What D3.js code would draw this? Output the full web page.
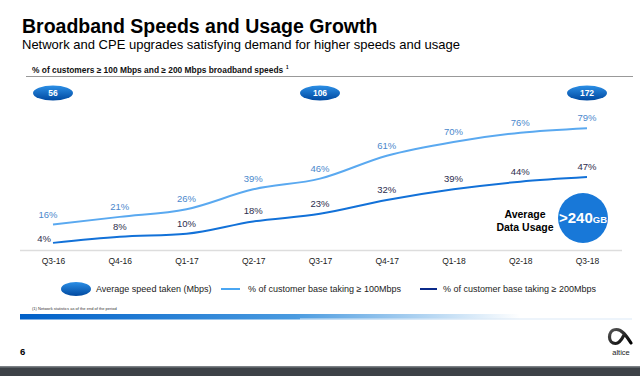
<!DOCTYPE html>
<html><head><meta charset="utf-8">
<script src="https://cdn.jsdelivr.net/npm/d3@7"></script>
<style>
html,body{margin:0;padding:0;background:#fff;}
svg{display:block;font-family:"Liberation Sans",Arial,sans-serif;}
</style></head>
<body><svg id="c" width="640" height="376"></svg>
<script>
const categories = ["Q3-16","Q4-16","Q1-17","Q2-17","Q3-17","Q4-17","Q1-18","Q2-18","Q3-18"];
const pct100 = [16,21,26,39,46,61,70,76,79];
const pct200 = [4,8,10,18,23,32,39,44,47];
const speedCats = ["Q3-16","Q3-17","Q3-18"];
const speedValues = [56,106,172];
const legendLabels = ["Average speed taken (Mbps)","% of customer base taking \u2265 100Mbps","% of customer base taking \u2265 200Mbps"];

const svg = d3.select("#c");
const defs = svg.append("defs");
const og = defs.append("linearGradient").attr("id","ovalG").attr("x1",0).attr("y1",0).attr("x2",0).attr("y2",1);
og.append("stop").attr("offset","0%").attr("stop-color","#2c8fe6");
og.append("stop").attr("offset","100%").attr("stop-color","#0049a0");
const bg = defs.append("linearGradient").attr("id","barG").attr("x1",0).attr("y1",0).attr("x2",1).attr("y2",0);
bg.append("stop").attr("offset","0%").attr("stop-color","#0060c8");
bg.append("stop").attr("offset","55%").attr("stop-color","#4a9be0");
bg.append("stop").attr("offset","100%").attr("stop-color","#ffffff");
const lg = defs.append("linearGradient").attr("id","logoG").attr("x1",0).attr("y1",0).attr("x2",1).attr("y2",1);
lg.append("stop").attr("offset","0%").attr("stop-color","#555");
lg.append("stop").attr("offset","60%").attr("stop-color","#222");
lg.append("stop").attr("offset","100%").attr("stop-color","#000");

// Titles
svg.append("text").attr("x",22).attr("y",33).attr("font-size",19.5).attr("font-weight","bold").attr("fill","#000")
  .text("Broadband Speeds and Usage Growth");
svg.append("text").attr("x",22).attr("y",49).attr("font-size",13).attr("fill","#000")
  .text("Network and CPE upgrades satisfying demand for higher speeds and usage");
svg.append("text").attr("x",32).attr("y",73).attr("font-size",8.4).attr("font-weight","bold").attr("fill","#111")
  .text("% of customers \u2265 100 Mbps and \u2265 200 Mbps broadband speeds");
svg.append("text").attr("x",286).attr("y",69).attr("font-size",4.5).attr("font-weight","bold").text("1");
svg.append("line").attr("x1",26).attr("x2",633).attr("y1",76.5).attr("y2",76.5).attr("stroke","#999").attr("stroke-width",1);

const x = d3.scalePoint().domain(categories).range([53,587]);
const y = d3.scaleLinear().domain([0,100]).range([249,96]);

// axis
svg.append("line").attr("x1",20).attr("x2",622).attr("y1",250.5).attr("y2",250.5).attr("stroke","#ddd").attr("stroke-width",1.5);
const ax = svg.append("g").attr("transform","translate(0,253)").call(d3.axisBottom(x).tickSize(0).tickPadding(5));
ax.select(".domain").remove();
ax.selectAll("text").attr("font-size",8.5).attr("fill","#222").attr("font-family","Liberation Sans, Arial, sans-serif");

const line = d3.line().x((d,i)=>x(categories[i])).y(d=>y(d)).curve(d3.curveMonotoneX);
svg.append("path").datum(pct100).attr("d",line).attr("fill","none").attr("stroke","#5aa9f0").attr("stroke-width",2);
svg.append("path").datum(pct200).attr("d",line).attr("fill","none").attr("stroke","#1271d8").attr("stroke-width",2);

svg.append("g").selectAll("text").data(pct100).join("text")
  .attr("x",(d,i)=>x(categories[i]) + (i===0?-5:0)).attr("y",d=>y(d)-7)
  .attr("text-anchor","middle").attr("font-size",9.5).attr("fill","#4b88cc").text(d=>d+"%");
svg.append("g").selectAll("text").data(pct200).join("text")
  .attr("x",(d,i)=>x(categories[i]) + (i===0?-9:0)).attr("y",(d,i)=>y(d)-(i===0?1:7))
  .attr("text-anchor","middle").attr("font-size",9.5).attr("fill","#2d2d4d").text(d=>d+"%");

// speed ovals
const sg = svg.append("g").selectAll("g").data(speedValues).join("g")
  .attr("transform",(d,i)=>`translate(${x(speedCats[i])},93)`);
sg.append("ellipse").attr("rx",20).attr("ry",7.5).attr("fill","url(#ovalG)");
sg.append("text").attr("y",3).attr("text-anchor","middle").attr("font-size",8.5).attr("font-weight","bold").attr("fill","#fff").text(d=>d);

// Average data usage
svg.append("text").attr("x",525).attr("y",218).attr("text-anchor","middle").attr("font-size",10.5).attr("font-weight","bold").text("Average");
svg.append("text").attr("x",525).attr("y",231).attr("text-anchor","middle").attr("font-size",10.5).attr("font-weight","bold").text("Data Usage");
svg.append("circle").attr("cx",583).attr("cy",218).attr("r",25).attr("fill","#1878d8");
const t = svg.append("text").attr("x",583).attr("y",223).attr("text-anchor","middle").attr("fill","#fff").attr("font-weight","bold");
t.append("tspan").attr("font-size",15).text(">240");
t.append("tspan").attr("font-size",9.5).text("GB");

// legend
const ly = 289;
svg.append("ellipse").attr("cx",76).attr("cy",ly).attr("rx",15).attr("ry",7).attr("fill","url(#ovalG)");
svg.append("text").attr("x",96).attr("y",ly+3).attr("font-size",9).attr("fill","#222").text(legendLabels[0]);
svg.append("line").attr("x1",221).attr("x2",240).attr("y1",ly).attr("y2",ly).attr("stroke","#4aa6f2").attr("stroke-width",2);
svg.append("text").attr("x",248).attr("y",ly+3).attr("font-size",9).attr("fill","#222").text(legendLabels[1]);
svg.append("line").attr("x1",420).attr("x2",437).attr("y1",ly).attr("y2",ly).attr("stroke","#0b2a8a").attr("stroke-width",2);
svg.append("text").attr("x",443).attr("y",ly+3).attr("font-size",9).attr("fill","#222").text(legendLabels[2]);

svg.append("text").attr("x",32).attr("y",309.5).attr("font-size",4).attr("fill","#333").text("(1) Network statistics as of the end of the period");

// gradient bar
svg.append("rect").attr("x",20).attr("y",314).attr("width",500).attr("height",5.5).attr("fill","url(#barG)");
svg.append("line").attr("x1",300).attr("x2",632).attr("y1",319).attr("y2",319).attr("stroke","#dbe9f7").attr("stroke-width",1);

svg.append("text").attr("x",20).attr("y",355).attr("font-size",9.5).attr("font-weight","bold").text("6");

// logo
svg.append("path").attr("d","M631,343 C626,335 622,329.5 616.5,329.5 C611,329.5 609.5,334 609.5,337 C609.5,341 612,343.5 615.5,343.5 C619.5,343.5 622,339 624,335")
  .attr("fill","none").attr("stroke","url(#logoG)").attr("stroke-width",3.2).attr("stroke-linecap","round");
svg.append("text").attr("x",621).attr("y",355).attr("text-anchor","middle").attr("font-size",7.5).attr("fill","#222").text("altice");

// bottom band
svg.append("rect").attr("x",0).attr("y",367).attr("width",640).attr("height",9).attr("fill","#3d4247");
svg.append("rect").attr("x",0).attr("y",366).attr("width",640).attr("height",1.5).attr("fill","#7b8085");
</script></body></html>
